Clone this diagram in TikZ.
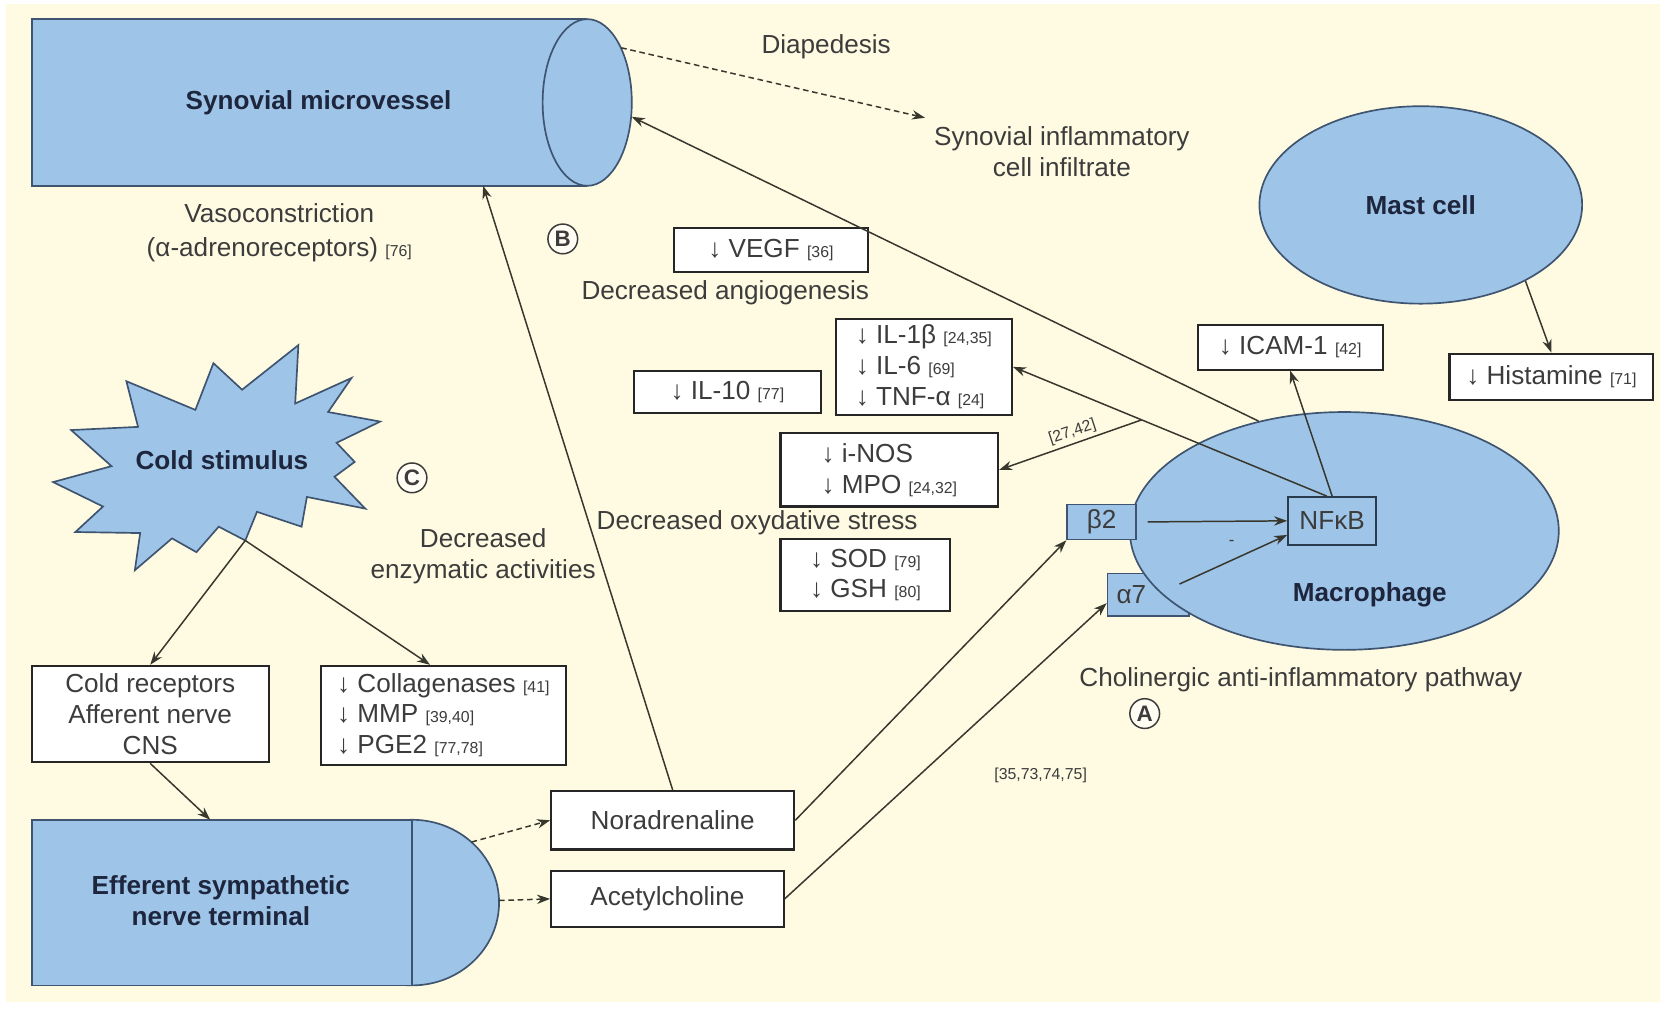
\documentclass[tikz,border=0pt]{standalone}
\usepackage{fontspec}
\setmainfont{Liberation Sans}
\usepackage{tikz}
\usetikzlibrary{arrows.meta}
\usetikzlibrary{calc}
\usetikzlibrary{shapes.geometric}
\definecolor{creamBg}{RGB}{255,251,226}
\definecolor{cellFill}{RGB}{158,196,232}
\definecolor{cellLine}{RGB}{62,84,112}
\definecolor{inkCol}{RGB}{60,60,60}
\definecolor{titleCol}{RGB}{30,38,62}
\definecolor{arrowCol}{RGB}{55,55,45}
\newcommand{\rf}[1]{{\fontsize{8.5}{10}\selectfont[#1]}}
\tikzset{boxStyle/.style={rectangle, draw=black!85, fill=white, line width=1.1pt, inner sep=0pt, align=left, text=inkCol}}
\tikzset{cellStyle/.style={ellipse, draw=cellLine, fill=cellFill, line width=0.9pt, inner sep=0pt}}
\tikzset{recStyle/.style={rectangle, draw=cellLine, fill=cellFill, line width=0.9pt, inner sep=0pt, text=inkCol}}
\tikzset{titleStyle/.style={font=\bfseries, text=titleCol}}
\tikzset{textStyle/.style={text=inkCol, align=center}}
\tikzset{markStyle/.style={circle, draw=inkCol, line width=0.8pt, inner sep=0pt, minimum size=0.56cm, fill=white!60!creamBg, text=inkCol, font=\fontsize{12}{12}\selectfont\bfseries}}
\tikzset{arrStyle/.style={-{Stealth[length=7pt,width=5pt]}, line width=0.8pt, draw=arrowCol}, dashStyle/.style={arrStyle, densely dashed}}

\begin{document}
\fontsize{14}{16.5}\selectfont
\begin{tikzpicture}[x=0.02cm, y=-0.02cm]
  \useasboundingbox (0,0) rectangle (1568,950);
  % background
  \fill[white] (0,0) rectangle (1568,950);
  \fill[creamBg] (6,4) rectangle (1563,944);

  % synovial microvessel
  \fill[cellFill] (30,18) rectangle (553,175);
  \draw[cellLine, fill=cellFill, line width=0.9pt] (553,96.5) ellipse [x radius=0.84cm, y radius=1.57cm];
  \draw[cellLine, line width=0.9pt] (553,18) -- (30,18) -- (30,175) -- (553,175);
  \node (vessel) [titleStyle] at (300,97) {Synovial microvessel};
  \coordinate (vesTop) at (585,45);
  \coordinate (vesEnd) at (595,110);
  \coordinate (vesBot) at (455,175);

  % nerve terminal
  \draw[cellLine, fill=cellFill, line width=0.9pt] (388,850) ellipse [x radius=1.64cm, y radius=1.56cm];
  \draw[cellLine, fill=cellFill, line width=0.9pt] (30,772) rectangle (388,928);
  \node (nerve) [titleStyle, align=center] at (208,848) {Efferent sympathetic\\nerve terminal};
  \coordinate (nerveTop) at (198,772);
  \coordinate (nerveUp) at (444,793);
  \coordinate (nerveMid) at (470,848);

  % cold stimulus
  \draw[cellLine, fill=cellFill, line width=0.9pt] (50,454) -- (105,439) -- (67,405) -- (130,402) -- (119,359)
    -- (184,386) -- (201,342) -- (228,367) -- (281,325) -- (278,380) -- (331,356) -- (309,388)
    -- (358,397) -- (317,417) -- (334,435) -- (315,449) -- (344,479) -- (289,468) -- (284,496)
    -- (242,482) -- (231,509) -- (206,496) -- (185,520) -- (162,507) -- (127,537) -- (132,502)
    -- (71,501) -- (97,477) -- cycle;
  \node (cold) [titleStyle] at (209,433) {Cold stimulus};
  \coordinate (fork) at (231,509);

  % cells
  \node (a7) [recStyle, minimum width=1.54cm, minimum height=0.8cm, text width=1.2cm] at (1081.5,560) {α7};
  \node (macro) [cellStyle, minimum width=8.08cm, minimum height=4.48cm] at (1266,500) {};
  \node (macroTxt) [titleStyle] at (1290,560) {Macrophage};
  \node (mast) [cellStyle, titleStyle, minimum width=6.08cm, minimum height=3.72cm] at (1338,193) {Mast cell};
  \node (b2) [recStyle, minimum width=1.3cm, minimum height=0.66cm] at (1037.5,491.5) {β2};
  \node (nfkb) [recStyle, draw=cellLine!70!black, minimum width=1.66cm, minimum height=0.9cm] at (1254.5,490.5) {NFκB};

  % boxes
  \node (vegf) [boxStyle, minimum width=3.64cm, minimum height=0.82cm] at (726,235.5) {↓ VEGF \rf{36}};
  \node (il10) [boxStyle, minimum width=3.52cm, minimum height=0.8cm] at (685,369) {↓ IL-10 \rf{77}};
  \node (ilbox) [boxStyle, minimum width=3.32cm, minimum height=1.82cm] at (870,345.5) {↓ IL-1β \rf{24,35}\\↓ IL-6 \rf{69}\\↓ TNF-α \rf{24}};
  \node (inos) [boxStyle, minimum width=4.1cm, minimum height=1.38cm] at (837.5,442.5) {↓ i-NOS\\↓ MPO \rf{24,32}};
  \node (sod) [boxStyle, minimum width=3.2cm, minimum height=1.34cm] at (815,541.5) {↓ SOD \rf{79}\\↓ GSH \rf{80}};
  \node (icam) [boxStyle, minimum width=3.48cm, minimum height=0.84cm] at (1215,327) {↓ ICAM-1 \rf{42}};
  \node (hist) [boxStyle, minimum width=3.84cm, minimum height=0.88cm] at (1461,355) {↓ Histamine \rf{71}};
  \node (coldrec) [boxStyle, align=center, minimum width=4.46cm, minimum height=1.82cm] at (141.5,672.5) {Cold receptors\\Afferent nerve\\CNS};
  \node (collag) [boxStyle, minimum width=4.62cm, minimum height=1.86cm] at (417.5,673.5) {↓ Collagenases \rf{41}\\↓ MMP \rf{39,40}\\↓ PGE2 \rf{77,78}};
  \node (noradr) [boxStyle, minimum width=4.58cm, minimum height=1.1cm] at (633.5,772.5) {Noradrenaline};
  \node (acetyl) [boxStyle, minimum width=4.38cm, minimum height=1.06cm] at (628.5,846.5) {Acetylcholine};

  % labels
  \node (diap) [textStyle] at (778,44) {Diapedesis};
  \node (infil) [textStyle] at (1000,143) {Synovial inflammatory\\cell infiltrate};
  \node (vaso) [textStyle] at (263,219) {Vasoconstriction\\[1.5pt](α-adrenoreceptors) \rf{76}};
  \node (angio) [textStyle] at (683,276) {Decreased angiogenesis};
  \node (oxy) [textStyle] at (713,492) {Decreased oxydative stress};
  \node (enzy) [textStyle] at (455,524) {Decreased\\enzymatic activities};
  \node (chol) [textStyle] at (1225,640) {Cholinergic anti-inflammatory pathway};
  \node (refAch) [textStyle, font=\fontsize{8.5}{10}\selectfont] at (980,730) {[35,73,74,75]};
  \node (refNos) [textStyle, font=\fontsize{8.5}{10}\selectfont, rotate=18] at (1010,407) {[27,42]};
  \node (minus) [textStyle, font=\fontsize{9}{10}\selectfont] at (1160,511) {-};
  \node (markA) [markStyle] at (1078,672) {A};
  \node (markB) [markStyle] at (530,225) {B};
  \node (markC) [markStyle] at (388,450) {C};

  % connectors
  \draw[dashStyle] (vesTop) -- (infil.north west);
  \draw[arrStyle] (macro.128) -- (vesEnd);
  \draw[arrStyle] (nfkb.north) -- (icam.south);
  \draw[arrStyle] ([xshift=-0.1cm]nfkb.north) -- coordinate[pos=0.59] (branch) (ilbox.east);
  \draw[arrStyle] (branch) -- (inos.east);
  \draw[arrStyle] (mast.-36) -- (hist.north);
  \draw[arrStyle] (fork) -- (coldrec.north);
  \draw[arrStyle] (fork) -- ([xshift=-0.25cm]collag.north);
  \draw[arrStyle] (coldrec.south) -- (nerveTop);
  \draw[dashStyle] (nerveUp) -- (noradr.west);
  \draw[dashStyle] (nerveMid) -- (acetyl.west);
  \draw[arrStyle] (noradr.north) -- (vesBot);
  \draw[arrStyle] (noradr.east) -- (b2.south west);
  \draw[arrStyle] (acetyl.east) -- ([yshift=-0.16cm]a7.west);
  \draw[arrStyle] ([xshift=0.2cm]b2.east) -- (nfkb.west);
  \draw[arrStyle] ([shift={(-0.2cm,0.2cm)}]a7.east) -- ([yshift=0.2cm]nfkb.south west);
\end{tikzpicture}
\end{document}
